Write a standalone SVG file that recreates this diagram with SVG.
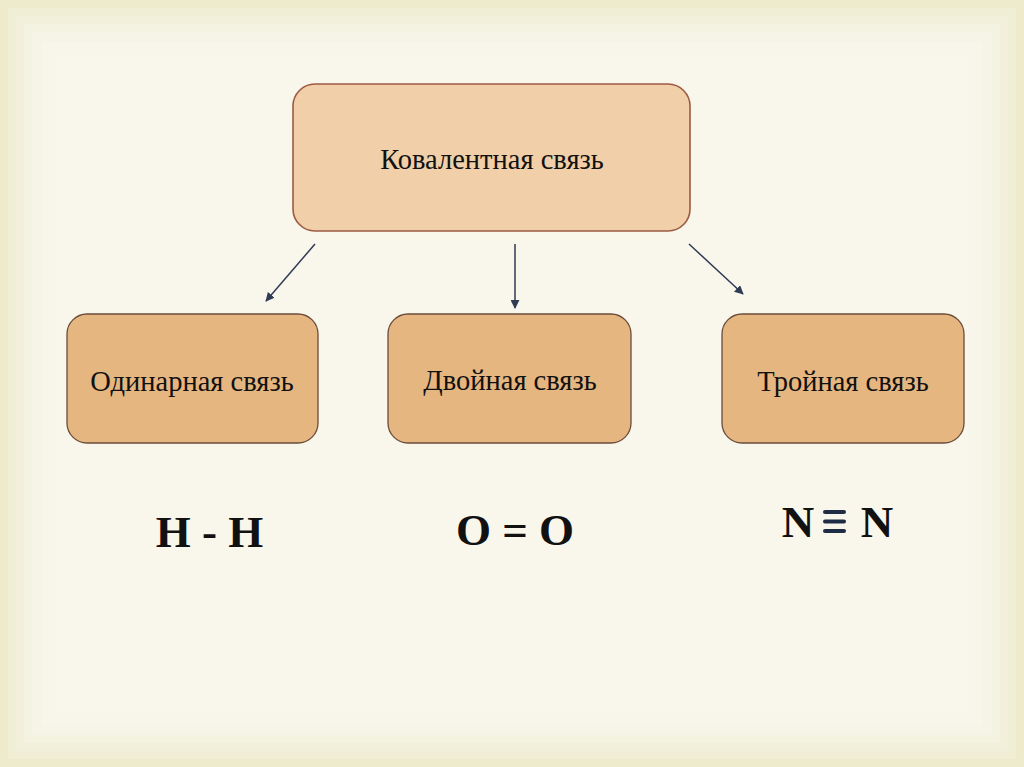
<svg xmlns="http://www.w3.org/2000/svg" width="1024" height="767" viewBox="0 0 1024 767">
<defs>
<style>
.lbl{font-family:"Liberation Serif","Times New Roman",serif;font-size:28.5px;fill:#111;text-anchor:middle}
.form{font-family:"Liberation Serif","Times New Roman",serif;font-size:45px;font-weight:bold;fill:#111;text-anchor:middle}
.sub{fill:#e6b680;stroke:#6b4c3a;stroke-width:1.3}
.top{fill:#f0cfa9;stroke:#9c5b43;stroke-width:1.6}
.conn{stroke:#2f3a55;stroke-width:1.5;fill:none;marker-end:url(#ah)}
</style>
<marker id="ah" viewBox="0 0 10 10" refX="9" refY="5" markerWidth="9" markerHeight="9" orient="auto" markerUnits="userSpaceOnUse">
<path d="M0,0 L10,5 L0,10 z" fill="#2f3a55"/>
</marker>
</defs>
<g id="background">
<rect x="0" y="0" width="1024" height="767" fill="#eeebcd"/>
<rect x="8" y="8" width="1008" height="751" fill="#f0eed4"/>
<rect x="16" y="16" width="992" height="735" fill="#f2f0db"/>
<rect x="24" y="24" width="976" height="719" fill="#f4f2e1"/>
<rect x="32" y="32" width="960" height="703" fill="#f6f4e6"/>
<rect x="42" y="42" width="940" height="683" fill="#f8f6ea"/>
<rect x="55" y="55" width="914" height="657" fill="#f9f7ec"/>
</g>
<g id="connectors">
<line class="conn" x1="315" y1="244" x2="266" y2="301"/>
<line class="conn" x1="515" y1="244" x2="515" y2="308"/>
<line class="conn" x1="689" y1="244" x2="743" y2="294"/>
</g>
<g id="node-covalent">
<rect class="top" x="293" y="84" width="397" height="147" rx="22"/>
<text class="lbl" x="492" y="169">Ковалентная связь</text>
</g>
<g id="node-single">
<rect class="sub" x="67" y="314" width="251" height="129" rx="20"/>
<text class="lbl" x="192" y="391">Одинарная связь</text>
</g>
<g id="node-double">
<rect class="sub" x="388" y="314" width="243" height="129" rx="20"/>
<text class="lbl" x="510" y="390">Двойная связь</text>
</g>
<g id="node-triple">
<rect class="sub" x="722" y="314" width="242" height="129" rx="20"/>
<text class="lbl" x="843" y="391">Тройная связь</text>
</g>
<g id="formulas">
<text class="form" x="209.5" y="547">H - H</text>
<text class="form" x="515" y="545">O = O</text>
<text class="form" x="798" y="537">N</text>
<text class="form" x="877" y="537">N</text>
<rect x="823" y="510" width="23" height="4" rx="2" fill="#1f2d44"/>
<rect x="823" y="519.5" width="23" height="4" rx="2" fill="#1f2d44"/>
<rect x="823" y="529" width="23" height="4" rx="2" fill="#1f2d44"/>
</g>
</svg>
